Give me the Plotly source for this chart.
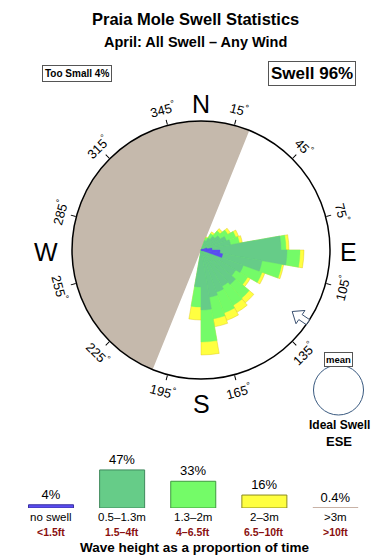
import numpy as np
import plotly.graph_objects as go

# ---------------- data ----------------
title = "Praia Mole Swell Statistics"
subtitle = "April: All Swell \u2013 Any Wind"
dir_centers = [25, 35, 45, 55, 65, 75, 85, 95, 105, 115, 125, 135, 145, 155, 165, 175, 185]
no_swell    = [0, 0, 0, 0, 0, 6, 11, 19, 22, 0, 0, 0, 0, 0, 0, 0, 0]
h_05_13     = [10, 14, 18, 22, 27, 30, 80, 86, 62, 45, 40, 45, 42, 45, 48, 60, 37]
h_13_2      = [3, 5, 7, 9, 10, 9, 5, 13, 20, 20, 14, 18, 22, 22, 22, 32, 20]
h_2_3       = [1, 2, 3, 3, 3, 3, 3, 4, 2, 3, 3, 6, 8, 8, 8, 13, 13]
land_from, land_to = 202, 22
mean_dir = 124
tick_degs = [15, 45, 75, 105, 135, 165, 195, 225, 255, 285, 315, 345]
cardinals = ["N", "E", "S", "W"]
cardinal_degs = [0, 90, 180, 270]

leg_pcts = [4, 47, 33, 16, 0.4]
leg_pct_text = ["4%", "47%", "33%", "16%", "0.4%"]
leg_m = ["no swell", "0.5\u20131.3m", "1.3\u20132m", "2\u20133m", ">3m"]
leg_ft = ["<1.5ft", "1.5\u20134ft", "4\u20136.5ft", "6.5\u201310ft", ">10ft"]
too_small_pct = 4
swell_pct = 96
ideal_dir = "ESE"

# ---------------- style ----------------
W, H = 390, 560
FONT = "Liberation Sans"
C_BLUE = "#5a4cf2"
C_DG = "#66cc88"
C_LG = "#74fb68"
C_Y = "#ffff40"
C_LAND = "#c5b9ac"
C_BIG = "#c4aca0"
C_RED = "#8a1010"
cx, cy, R = 201, 250, 129


def pp(x, y):
    return x / W, 1 - y / H


fig = go.Figure()

d = np.array(h_05_13, float)
l = np.array(h_13_2, float)
y = np.array(h_2_3, float)
cum_dg = d
cum_lg = d + l
cum_y = d + l + y

land_width = (land_to - land_from) % 360
fig.add_trace(go.Barpolar(theta=[land_from + land_width / 2], r=[R], width=[land_width],
                          marker=dict(color=C_LAND, line=dict(width=0)), hoverinfo="skip"))
for vals, col, lc in [(cum_y, C_Y, "#d8c020"), (cum_lg, C_LG, C_LG), (cum_dg, C_DG, C_DG),
                      (np.array(no_swell, float), C_BLUE, C_BLUE)]:
    fig.add_trace(go.Barpolar(theta=dir_centers, r=vals, width=[10] * len(dir_centers),
                              marker=dict(color=col, line=dict(width=0.4, color=lc)),
                              hoverinfo="skip"))

x0, y0 = pp(cx - R, cy + R)
x1, y1 = pp(cx + R, cy - R)

fig.update_layout(
    polar=dict(
        domain=dict(x=[x0, x1], y=[y0, y1]),
        bgcolor="white",
        barmode="overlay",
        bargap=0,
        radialaxis=dict(visible=False, range=[0, R]),
        angularaxis=dict(rotation=90, direction="clockwise", tickmode="array",
                         tickvals=tick_degs, showticklabels=False, ticks="outside",
                         ticklen=5, tickcolor="black", showgrid=False,
                         showline=True, linecolor="black", linewidth=1.5),
    )
)

# ---------------- legend bars ----------------
leg_colors = [C_BLUE, C_DG, C_LG, C_Y, C_BIG]
leg_lines = ["#3a30a0", "#3f8a5c", "#3f9a3f", "#8a8a20", C_BIG]
fig.add_trace(go.Bar(x=list(range(5)), y=leg_pcts, width=0.633,
                     marker=dict(color=leg_colors, line=dict(color=leg_lines, width=1)),
                     text=leg_pct_text, textposition="outside", cliponaxis=False,
                     constraintext="none",
                     textfont=dict(family=FONT, size=13, color="black"),
                     xaxis="x", yaxis="y", hoverinfo="skip", showlegend=False))

bx0 = 51 - 35.55
bx1 = 335.5 + 35.55
fig.update_layout(
    xaxis=dict(domain=[bx0 / W, bx1 / W], range=[-0.5, 4.5], visible=False, fixedrange=True),
    yaxis=dict(domain=[1 - 508 / H, 1 - (508 - 50 * 0.81) / H], range=[0, 50],
               visible=False, fixedrange=True),
)

ann = []
for i in range(5):
    ann.append(dict(x=i, y=1 - 517 / H, xref="x", yref="paper", text=leg_m[i], showarrow=False,
                    font=dict(family=FONT, size=11.5, color="black"), xanchor="center", yanchor="middle"))
    ann.append(dict(x=i, y=1 - 531.5 / H, xref="x", yref="paper", text="<b>" + leg_ft[i] + "</b>",
                    showarrow=False, font=dict(family=FONT, size=10.5, color=C_RED),
                    xanchor="center", yanchor="middle"))
ann.append(dict(x=195 / W, y=1 - 547.5 / H, xref="paper", yref="paper",
                text="<b>Wave height as a proportion of time</b>", showarrow=False,
                font=dict(family=FONT, size=13.5, color="black"), xanchor="center", yanchor="middle"))

# ---------------- titles ----------------
ann.append(dict(x=195 / W, y=1 - 19 / H, xref="paper", yref="paper", text="<b>" + title + "</b>",
                showarrow=False, font=dict(family=FONT, size=16.5, color="black"),
                xanchor="center", yanchor="middle"))
ann.append(dict(x=195 / W, y=1 - 42 / H, xref="paper", yref="paper", text="<b>" + subtitle + "</b>",
                showarrow=False, font=dict(family=FONT, size=14.5, color="black"),
                xanchor="center", yanchor="middle"))
ann.append(dict(x=77 / W, y=1 - 74 / H, xref="paper", yref="paper",
                text="<b>Too Small %d%%</b>" % too_small_pct, showarrow=False,
                font=dict(family=FONT, size=10, color="black"), bordercolor="#555",
                borderwidth=1, borderpad=2, xanchor="center", yanchor="middle", bgcolor="white"))
ann.append(dict(x=311.5 / W, y=1 - 74 / H, xref="paper", yref="paper",
                text="<b>Swell %d%%</b>" % swell_pct, showarrow=False,
                font=dict(family=FONT, size=17, color="black"), bordercolor="#555",
                borderwidth=1, borderpad=2, xanchor="center", yanchor="middle", bgcolor="white"))

# ---------------- compass labels ----------------
for t in tick_degs:
    a = np.radians(t)
    px_ = cx + 146 * np.sin(a)
    py_ = cy - 146 * np.cos(a)
    ang = ((t + 90) % 180) - 90
    ann.append(dict(x=px_ / W, y=1 - py_ / H, xref="paper", yref="paper",
                    text="%d<sup>°</sup>" % t, showarrow=False, textangle=ang,
                    font=dict(family=FONT, size=13, color="black"),
                    xanchor="center", yanchor="middle"))
card_r = [148, 147, 152, 155]
for c, t, rr in zip(cardinals, cardinal_degs, card_r):
    a = np.radians(t)
    px_ = cx + rr * np.sin(a)
    py_ = cy - rr * np.cos(a) + 2
    ann.append(dict(x=px_ / W, y=1 - py_ / H, xref="paper", yref="paper", text=c,
                    showarrow=False, font=dict(family=FONT, size=25, color="black"),
                    xanchor="center", yanchor="middle"))

# ideal swell
ann.append(dict(x=338 / W, y=1 - 359.5 / H, xref="paper", yref="paper", text="<b>mean</b>",
                showarrow=False, font=dict(family=FONT, size=9.5, color="black"),
                bordercolor="#555", borderwidth=1, borderpad=1, bgcolor="white",
                xanchor="center", yanchor="middle"))
ann.append(dict(x=339 / W, y=1 - 425 / H, xref="paper", yref="paper", text="<b>Ideal Swell</b>",
                showarrow=False, font=dict(family=FONT, size=12, color="black"),
                xanchor="center", yanchor="middle"))
ann.append(dict(x=339 / W, y=1 - 441 / H, xref="paper", yref="paper", text="<b>%s</b>" % ideal_dir,
                showarrow=False, font=dict(family=FONT, size=13, color="black"),
                xanchor="center", yanchor="middle"))

shapes = []
ccx, ccy, cr = 338.5, 390, 25
shapes.append(dict(type="circle", xref="paper", yref="paper",
                   x0=(ccx - cr) / W, x1=(ccx + cr) / W, y0=1 - (ccy + cr) / H, y1=1 - (ccy - cr) / H,
                   line=dict(color="#3a5a80", width=1), fillcolor="white", layer="below"))

# mean direction arrow (outline)
a = np.radians(mean_dir)
u = np.array([np.sin(a), -np.cos(a)])
p = np.array([-u[1], u[0]])
pts_rc = [(110, 0), (120, 8), (120, 3), (129, 3), (129, -3), (120, -3), (120, -8)]
pts = [np.array([cx, cy]) + r_ * u + s_ * p for r_, s_ in pts_rc]
path = "M " + " L ".join("%.5f %.5f" % (q[0] / W, 1 - q[1] / H) for q in pts) + " Z"
shapes.append(dict(type="path", xref="paper", yref="paper", path=path,
                   line=dict(color="#3a5070", width=1), fillcolor="white"))

fig.update_layout(width=W, height=H, autosize=False, margin=dict(l=0, r=0, t=0, b=0),
                  paper_bgcolor="white", plot_bgcolor="white", showlegend=False,
                  annotations=ann, shapes=shapes, font=dict(family=FONT))

fig.write_html("out.html")
